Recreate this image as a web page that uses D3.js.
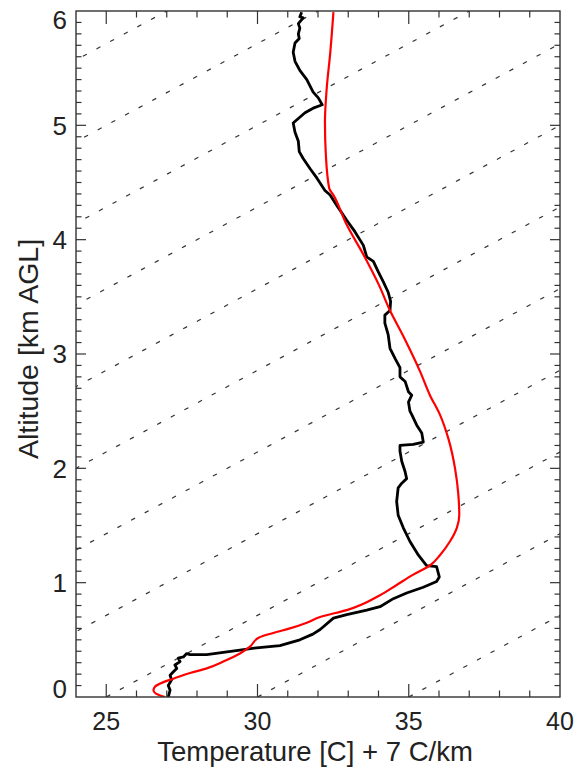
<!DOCTYPE html>
<html>
<head>
<meta charset="utf-8">
<script src="https://cdn.jsdelivr.net/npm/d3@7"></script>
<style>
  body { margin: 0; background: #fff; }
  svg text { font-family: "Liberation Sans", Arial, sans-serif; fill: #222; }
</style>
</head>
<body>
<svg id="chart" width="579" height="769"></svg>
<script>
// observed sounding (black): temperature + 7 C/km, altitude km AGL
var sondeT = [27.05, 27.11, 27.05, 27.16, 27.11, 27.22, 27.33, 27.27, 27.44, 27.38, 27.55, 27.66, 27.77,
  28.32, 28.87, 29.42, 29.97, 30.74, 31.40, 31.83, 32.07, 32.51, 32.95, 33.61, 34.05, 34.49, 34.93,
  35.48, 35.92, 36.01, 35.92, 35.59, 35.32, 35.04, 34.82, 34.65, 34.60, 34.65, 34.77, 34.93, 34.88,
  34.77, 34.71, 34.71, 35.15, 35.48, 35.43, 35.26, 35.10, 35.04, 34.99, 35.10, 34.99, 34.88, 34.71,
  34.71, 34.55, 34.38, 34.32, 34.21, 34.21, 34.38, 34.40, 34.32, 34.16, 33.99, 33.83, 33.61, 33.50,
  33.22, 32.95, 32.62, 32.40, 32.23, 31.96, 31.74, 31.51, 31.38, 31.35, 31.24, 31.18, 31.35, 31.57,
  31.84, 32.14, 32.01, 31.84, 31.63, 31.40, 31.24, 31.18, 31.24, 31.38, 31.35, 31.40, 31.35, 31.51,
  31.40, 31.46];
var sondeZ = [0.00, 0.06, 0.10, 0.15, 0.19, 0.22, 0.25, 0.28, 0.31, 0.34, 0.35, 0.38, 0.37,
  0.37, 0.39, 0.41, 0.43, 0.45, 0.50, 0.55, 0.59, 0.69, 0.72, 0.76, 0.79, 0.86, 0.91,
  0.96, 1.01, 1.05, 1.14, 1.15, 1.24, 1.36, 1.48, 1.59, 1.71, 1.83, 1.87, 1.91, 1.97,
  2.06, 2.15, 2.20, 2.21, 2.23, 2.31, 2.38, 2.47, 2.50, 2.58, 2.64, 2.67, 2.76, 2.80,
  2.88, 2.96, 3.05, 3.17, 3.27, 3.34, 3.38, 3.46, 3.54, 3.63, 3.72, 3.81, 3.85, 3.95,
  4.07, 4.17, 4.30, 4.39, 4.43, 4.54, 4.62, 4.71, 4.77, 4.86, 4.94, 5.02, 5.06, 5.11,
  5.15, 5.18, 5.24, 5.29, 5.40, 5.48, 5.56, 5.64, 5.72, 5.76, 5.80, 5.85, 5.89, 5.94,
  5.95, 5.99];

// model profile (red)
var modelT = [26.94, 26.64, 26.56, 26.61, 26.89, 27.22, 27.77, 28.32, 28.87, 29.42, 29.75, 30.05,
  30.52, 31.07, 31.63, 32.07, 32.95, 34.05, 34.60, 35.15, 35.70, 36.03, 36.36, 36.59, 36.67,
  36.64, 36.53, 36.31, 36.03, 35.70, 35.37, 34.85, 34.38, 34.02, 33.50, 32.95, 32.51, 32.37,
  32.26, 32.23, 32.29, 32.40, 32.51];
var modelZ = [0.00, 0.03, 0.06, 0.09, 0.13, 0.16, 0.21, 0.25, 0.31, 0.38, 0.44, 0.52,
  0.56, 0.60, 0.65, 0.70, 0.76, 0.89, 0.98, 1.07, 1.15, 1.24, 1.36, 1.48, 1.59,
  1.77, 2.00, 2.26, 2.47, 2.64, 2.85, 3.14, 3.38, 3.60, 3.87, 4.13, 4.39, 4.45,
  4.74, 5.03, 5.33, 5.62, 5.99];

// isotherms (dotted), surface value of each line, slope 7 C/km
var isotherms = [-20, -15, -10, -5, 0, 5, 10, 15, 20, 25, 30, 35];
var lapse = 7;

var xMajor = [25, 30, 35, 40];
var yMajor = [0, 1, 2, 3, 4, 5, 6];

var svg = d3.select("#chart");
var L = 76, R = 560, T = 11, B = 697;

var x = d3.scaleLinear().domain([24, 40]).range([L, R]);
var y = d3.scaleLinear().domain([0, 6]).range([B, T]);

svg.append("clipPath").attr("id", "plotclip")
  .append("rect").attr("x", L).attr("y", T).attr("width", R - L).attr("height", B - T);

var plot = svg.append("g").attr("clip-path", "url(#plotclip)");

// dotted isotherms
plot.selectAll(".iso")
  .data(isotherms)
  .join("line")
  .attr("class", "iso")
  .attr("x1", d => x(d))
  .attr("y1", y(0))
  .attr("x2", d => x(d + lapse * 6))
  .attr("y2", y(6))
  .attr("stroke", "#333")
  .attr("stroke-width", 1.2)
  .attr("stroke-dasharray", "4.5,11");

var line = d3.line().x(d => x(d[0])).y(d => y(d[1]));

plot.append("path")
  .datum(sondeT.map((t, i) => [t, sondeZ[i]]))
  .attr("fill", "none")
  .attr("stroke", "#000")
  .attr("stroke-width", 2.8)
  .attr("stroke-linejoin", "round")
  .attr("d", line);

plot.append("path")
  .datum(modelT.map((t, i) => [t, modelZ[i]]))
  .attr("fill", "none")
  .attr("stroke", "#ff0000")
  .attr("stroke-width", 2.2)
  .attr("d", d3.line().curve(d3.curveMonotoneY).x(d => x(d[0])).y(d => y(d[1])));

// axes box
var axisCol = "#333";
svg.append("rect").attr("x", L).attr("y", T).attr("width", R - L).attr("height", B - T)
  .attr("fill", "none").attr("stroke", axisCol).attr("stroke-width", 1.4);

// x ticks, bottom and top
d3.range(25, 40, 1).forEach(function (v) {
  var major = xMajor.indexOf(v) >= 0;
  var len = major ? 13 : 6.5;
  svg.append("line").attr("x1", x(v)).attr("x2", x(v)).attr("y1", B).attr("y2", B - len)
    .attr("stroke", axisCol).attr("stroke-width", 1.2);
  svg.append("line").attr("x1", x(v)).attr("x2", x(v)).attr("y1", T).attr("y2", T + len)
    .attr("stroke", axisCol).attr("stroke-width", 1.2);
});

// y ticks, left and right
d3.range(1, 60).forEach(function (i) {
  var v = i / 10;
  var major = i % 10 === 0;
  var len = major ? 10 : 5.5;
  svg.append("line").attr("x1", L).attr("x2", L + len).attr("y1", y(v)).attr("y2", y(v))
    .attr("stroke", axisCol).attr("stroke-width", 1.2);
  svg.append("line").attr("x1", R).attr("x2", R - len).attr("y1", y(v)).attr("y2", y(v))
    .attr("stroke", axisCol).attr("stroke-width", 1.2);
});

// tick labels
svg.selectAll(".xlab")
  .data(xMajor)
  .join("text")
  .attr("x", d => x(d))
  .attr("y", 730)
  .attr("text-anchor", "middle")
  .attr("font-size", 25)
  .text(d => d);

svg.selectAll(".ylab")
  .data(yMajor)
  .join("text")
  .attr("x", 67)
  .attr("y", d => Math.min(Math.max(y(d), T + 9), B - 8))
  .attr("dy", "0.36em")
  .attr("text-anchor", "end")
  .attr("font-size", 26)
  .text(d => d);

// axis titles
svg.append("text")
  .attr("x", 315)
  .attr("y", 761)
  .attr("text-anchor", "middle")
  .attr("font-size", 27.5)
  .text("Temperature [C] + 7 C/km");

svg.append("text")
  .attr("transform", "translate(38,349) rotate(-90)")
  .attr("text-anchor", "middle")
  .attr("font-size", 28.5)
  .text("Altitude [km AGL]");
</script>
</body>
</html>
